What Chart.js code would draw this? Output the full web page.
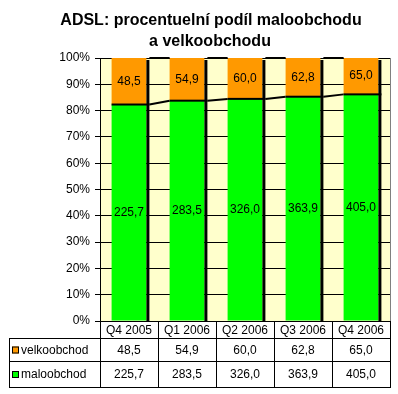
<!DOCTYPE html>
<html>
<head>
<meta charset="utf-8">
<script src="https://cdn.jsdelivr.net/npm/chart.js@4.4.0/dist/chart.umd.min.js"></script>
<style>
  html, body { margin: 0; padding: 0; background: #fff; }
  #wrap { width: 398px; height: 394px; }
</style>
</head>
<body>
<div id="wrap"><canvas id="c" width="398" height="394"></canvas></div>
<script>
const categories = ['Q4 2005', 'Q1 2006', 'Q2 2006', 'Q3 2006', 'Q4 2006'];
const maloobchod = [225.7, 283.5, 326.0, 363.9, 405.0];
const velkoobchod = [48.5, 54.9, 60.0, 62.8, 65.0];
const yTicks = [0, 10, 20, 30, 40, 50, 60, 70, 80, 90, 100];
const titleLines = ['ADSL: procentuelní podíl maloobchodu', 'a velkoobchodu'];

const GREEN = '#00ff00', ORANGE = '#ff9900';
const fmt = v => v.toFixed(1).replace('.', ',');

// shares of the total per quarter (100 % stacked)
const totals = maloobchod.map((m, i) => m + velkoobchod[i]);
const maloPct = maloobchod.map((m, i) => m / totals[i] * 100);
const velkoPct = velkoobchod.map((v, i) => v / totals[i] * 100);

const seriesRows = [
  { label: 'velkoobchod', color: ORANGE, values: velkoobchod },
  { label: 'maloobchod', color: GREEN, values: maloobchod },
];

const decor = {
  id: 'decor',
  beforeDraw(chart) {
    const { ctx, chartArea: a } = chart;
    ctx.save();
    ctx.fillStyle = '#ffffcc';
    ctx.fillRect(a.left, a.top, a.right - a.left, a.bottom - a.top);
    ctx.restore();
  },
  afterDatasetsDraw(chart) {
    const { ctx, chartArea: a } = chart;
    const green = chart.getDatasetMeta(0).data;
    const orange = chart.getDatasetMeta(1).data;
    ctx.save();
    ctx.fillStyle = '#000';
    // shadows on right side
    orange.forEach(b => {
      const w = b.width;
      ctx.fillRect(b.x + w / 2, b.y + 2, 3, a.bottom - b.y - 2);
    });
    // boundary between segments
    green.forEach(b => {
      ctx.fillRect(b.x - b.width / 2, b.y - 1, b.width + 3, 2);
    });
    // series lines
    ctx.strokeStyle = '#000';
    ctx.lineWidth = 2;
    [green, orange].forEach(els => {
      for (let i = 0; i < els.length - 1; i++) {
        const p = els[i], q = els[i + 1];
        ctx.beginPath();
        ctx.moveTo(p.x + p.width / 2 + 3, p.y);
        ctx.lineTo(q.x - q.width / 2, q.y);
        ctx.stroke();
      }
    });
    // value labels
    ctx.font = '12px "Liberation Sans", Arial, sans-serif';
    ctx.textAlign = 'center';
    ctx.textBaseline = 'middle';
    green.forEach((b, i) => {
      ctx.fillText(fmt(maloobchod[i]), b.x, (b.y + b.base) / 2);
    });
    orange.forEach((b, i) => {
      ctx.fillText(fmt(velkoobchod[i]), b.x, (b.y + b.base) / 2);
    });
    // plot border right
    ctx.strokeStyle = '#808080';
    ctx.lineWidth = 1;
    ctx.beginPath();
    ctx.moveTo(a.right + 0.5, a.top);
    ctx.lineTo(a.right + 0.5, a.bottom);
    ctx.stroke();
    ctx.restore();
  },
  afterDraw(chart) {
    const { ctx, chartArea: a } = chart;
    const x = chart.scales.x;
    const colW = (a.right - a.left) / categories.length;
    const rows = [a.bottom, 338, 361, 387];
    const left = 9.5;
    ctx.save();
    ctx.strokeStyle = '#000';
    ctx.lineWidth = 1;
    ctx.beginPath();
    // horizontals
    ctx.moveTo(a.left, rows[0] + 0.5); ctx.lineTo(a.right + 1, rows[0] + 0.5);
    for (let r = 1; r < rows.length; r++) {
      ctx.moveTo(left, rows[r] + 0.5); ctx.lineTo(a.right + 1, rows[r] + 0.5);
    }
    // verticals
    for (let i = 0; i <= categories.length; i++) {
      const px = Math.round(a.left + i * colW) + 0.5;
      ctx.moveTo(px, rows[0]); ctx.lineTo(px, rows[3] + 1);
    }
    ctx.moveTo(left, rows[1]); ctx.lineTo(left, rows[3] + 1);
    ctx.stroke();

    ctx.font = '12px "Liberation Sans", Arial, sans-serif';
    ctx.fillStyle = '#000';
    ctx.textBaseline = 'middle';
    ctx.textAlign = 'center';
    categories.forEach((c, i) => {
      ctx.fillText(c, x.getPixelForValue(i), (rows[0] + rows[1]) / 2 + 1);
    });
    seriesRows.forEach((s, r) => {
      const cy = (rows[r + 1] + rows[r + 2]) / 2 + 1;
      s.values.forEach((v, i) => {
        ctx.textAlign = 'center';
        ctx.fillText(fmt(v), x.getPixelForValue(i), cy);
      });
      ctx.fillStyle = s.color;
      ctx.fillRect(12, cy - 4, 7, 7);
      ctx.strokeRect(12.5, cy - 3.5, 6, 6);
      ctx.fillStyle = '#000';
      ctx.textAlign = 'left';
      ctx.fillText(s.label, 21, cy);
    });

    // title
    ctx.font = 'bold 16px "Liberation Sans", Arial, sans-serif';
    ctx.textAlign = 'center';
    ctx.textBaseline = 'middle';
    ctx.fillText(titleLines[0], 211, 21);
    ctx.fillText(titleLines[1], 210, 42);
    ctx.restore();
  }
};

new Chart(document.getElementById('c'), {
  type: 'bar',
  data: {
    labels: categories,
    datasets: [
      { label: 'maloobchod', data: maloPct, backgroundColor: GREEN, borderWidth: 0,
        categoryPercentage: 1, barPercentage: 0.6 },
      { label: 'velkoobchod', data: velkoPct, backgroundColor: ORANGE, borderWidth: 0,
        categoryPercentage: 1, barPercentage: 0.6 },
    ]
  },
  options: {
    responsive: false,
    animation: false,
    layout: { padding: { left: 10, right: 8, top: 58, bottom: 73 } },
    plugins: { legend: { display: false }, title: { display: false }, tooltip: { enabled: false } },
    scales: {
      x: { stacked: true, display: false },
      y: {
        stacked: true, min: 0, max: 100,
        afterFit: s => { s.width = 90; },
        afterBuildTicks: s => { s.ticks = yTicks.map(v => ({ value: v })); },
        ticks: { color: '#000', padding: 5, font: { family: '"Liberation Sans", Arial, sans-serif', size: 12 },
          callback: v => v + '%' },
        grid: { color: '#000', lineWidth: 1, tickLength: 5 },
        border: { color: '#000', width: 1 }
      }
    }
  },
  plugins: [decor]
});
</script>
</body>
</html>
